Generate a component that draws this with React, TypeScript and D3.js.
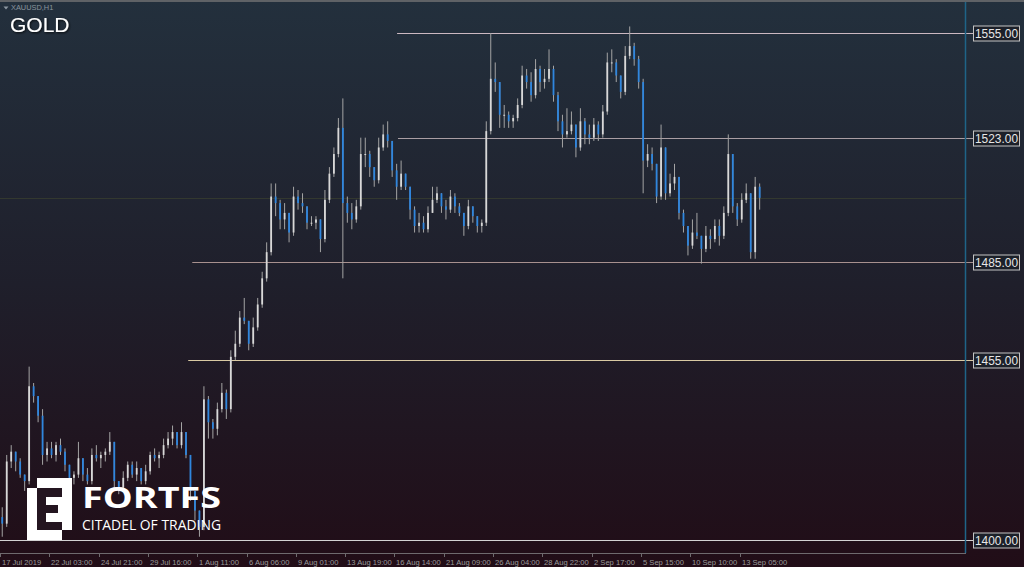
import React from 'react';
import * as d3 from 'd3';

const W = 1024;
const H = 567;

// 6-hour aggregated candles (XAUUSD)
const highs = [1410,1426,1429,1427,1425,1420,1453,1448,1444,1440,1430,1430,1430,1431,1428,1423,1421,1430,1425,1422,1428,1429,1427,1428,1433,1430,1418,1421,1424,1424,1424,1422,1423,1427,1428,1427,1431,1433,1435,1433,1436,1433,1426,1415,1409,1447,1444,1437,1442,1448,1446,1458,1464,1470,1474,1467,1468,1474,1482,1491,1509,1509,1504,1503,1500,1508,1507,1506,1502,1499,1499,1498,1507,1514,1520,1529,1535,1505,1503,1504,1523,1523,1519,1514,1523,1527,1528,1522,1515,1516,1512,1508,1502,1500,1499,1502,1508,1508,1506,1504,1507,1506,1503,1500,1504,1502,1499,1498,1528,1555,1546,1540,1533,1531,1530,1535,1545,1544,1543,1547,1545,1544,1550,1545,1537,1530,1532,1531,1527,1532,1529,1527,1529,1528,1533,1549,1550,1547,1542,1551,1557,1552,1548,1541,1521,1520,1515,1527,1520,1512,1515,1511,1501,1496,1498,1500,1493,1496,1495,1498,1498,1502,1524,1518,1503,1506,1509,1506,1511,1509];
const lows = [1401,1404,1422,1421,1419,1415,1417,1442,1436,1423,1424,1425,1424,1426,1421,1418,1417,1419,1418,1417,1417,1424,1422,1424,1426,1415,1414,1415,1418,1419,1418,1417,1417,1420,1424,1422,1425,1428,1429,1428,1428,1425,1412,1406,1401,1403,1431,1431,1432,1439,1437,1439,1455,1459,1466,1458,1459,1464,1471,1479,1487,1499,1495,1495,1491,1493,1501,1500,1495,1496,1495,1488,1491,1503,1511,1517,1480,1497,1495,1497,1501,1514,1511,1508,1509,1519,1520,1511,1504,1507,1507,1498,1494,1494,1494,1494,1500,1503,1500,1498,1500,1500,1499,1493,1495,1497,1494,1494,1496,1524,1537,1526,1526,1526,1526,1528,1532,1538,1534,1535,1537,1538,1540,1534,1525,1520,1523,1524,1517,1519,1521,1521,1522,1522,1523,1530,1543,1540,1535,1536,1547,1545,1538,1506,1514,1513,1503,1504,1504,1505,1507,1498,1494,1487,1489,1492,1484.5,1488,1489,1491,1490,1492,1499,1500,1496,1497,1503,1486,1486,1501];
const closes = [1405,1424,1427,1424,1420,1418,1447,1444,1438,1426,1428,1426,1429,1427,1423,1419,1420,1425,1420,1418,1426,1425,1426,1427,1430,1418,1416,1419,1423,1420,1422,1418,1421,1426,1425,1426,1429,1431,1433,1429,1433,1426,1415,1409,1404,1443,1436,1434,1440,1445,1440,1456,1460,1468,1467,1460,1465,1472,1480,1488,1505,1503,1498,1500,1494,1505,1503,1502,1497,1497,1498,1492,1504,1512,1518,1526,1503,1500,1498,1502,1518,1518,1514,1510,1520,1524,1522,1513,1508,1512,1508,1501,1496,1497,1495,1500,1504,1506,1502,1501,1505,1502,1500,1496,1502,1499,1496,1497,1525,1541,1540,1530,1530,1528,1529,1533,1542,1540,1536,1544,1540,1541,1544,1536,1528,1524,1525,1527,1520,1528,1524,1523,1527,1524,1531,1546,1546,1542,1537,1548,1551,1547,1540,1516,1518,1515,1505,1520,1506,1509,1511,1500,1496,1490,1494,1493,1489,1493,1492,1496,1493,1500,1518,1502,1498,1504,1506,1488,1508,1504.6];
const firstOpen = 1407;

const tickLabels = ['17 Jul 2019','22 Jul 03:00','24 Jul 21:00','29 Jul 16:00','1 Aug 11:00','6 Aug 06:00','9 Aug 01:00','13 Aug 19:00','16 Aug 14:00','21 Aug 09:00','26 Aug 04:00','28 Aug 22:00','2 Sep 17:00','5 Sep 15:00','10 Sep 10:00','13 Sep 05:00'];
const candlesPerLabel = 11;

const levelPrices = [1555, 1523, 1485, 1455, 1400];
const levelStartIdx = [88.6, 88.8, 42.9, 42.0, 0];
const levelColors = ['#cbb8c1', '#aa9ea3', '#a8918f', '#d9caa3', '#d2d2d2'];
const bidPrice = 1504.6;

export default function App() {
  const plotRight = 966;
  const axisY = 553;
  const x = d3.scaleLinear().domain([0, candlesPerLabel]).range([0, 49.3]);
  const y = d3.scaleLinear().domain([1400, 1555]).range([540, 33]);
  const opens = closes.map((c, i) => (i === 0 ? firstOpen : closes[i - 1]));
  const bodyW = 1.8;

  return (
    <div style={{ position: 'fixed', left: 0, top: 0, width: W, height: H }}>
      <svg width={W} height={H} style={{ display: 'block' }}>
        <defs>
          <linearGradient id="bg" x1="0" y1="0" x2="0" y2="1">
            <stop offset="0" stopColor="#23303d" />
            <stop offset="0.5" stopColor="#1f1f2b" />
            <stop offset="1" stopColor="#210d17" />
          </linearGradient>
          <filter id="sh" x="-20%" y="-20%" width="140%" height="140%">
            <feDropShadow dx="1" dy="1" stdDeviation="1" floodColor="#000" floodOpacity="0.8" />
          </filter>
        </defs>
        <rect x={0} y={0} width={W} height={H} fill="url(#bg)" />
        <rect x={0} y={0} width={W} height={2} fill="#5f6266" />

        {/* bid line */}
        <line x1={0} x2={plotRight} y1={Math.round(y(bidPrice)) + 0.5} y2={Math.round(y(bidPrice)) + 0.5} stroke="#33382f" strokeWidth={1} />

        {/* level lines */}
        {levelPrices.map((p, i) => {
          const yy = Math.round(y(p)) + 0.5;
          return (
            <g key={p}>
              <line x1={x(levelStartIdx[i])} x2={974} y1={yy} y2={yy} stroke={levelColors[i]} strokeWidth={1} />
              <rect x={973.5} y={yy - 7.5} width={46} height={15} fill="#1c2029" stroke="#c4c4c4" strokeWidth={1} />
              <text x={996.5} y={yy + 4.5} textAnchor="middle" fontFamily="Liberation Sans, Arial, sans-serif" fontSize={12.5} fill="#e6e6e6" textLength={43} lengthAdjust="spacingAndGlyphs">
                {p.toFixed(2)}
              </text>
            </g>
          );
        })}

        {/* candles */}
        {closes.map((c, i) => {
          const cx = x(i + 0.5);
          const o = opens[i];
          const up = c >= o;
          const top = y(Math.max(o, c));
          const bot = y(Math.min(o, c));
          return (
            <g key={i}>
              <line x1={cx} x2={cx} y1={y(highs[i])} y2={y(lows[i])} stroke="#a4a4a4" strokeWidth={1} />
              <rect x={cx - bodyW / 2} y={top} width={bodyW} height={Math.max(1, bot - top)} fill={up ? '#d8d8d8' : '#2f86de'} />
            </g>
          );
        })}

        {/* right separator */}
        <line x1={plotRight - 0.5} x2={plotRight - 0.5} y1={2} y2={axisY} stroke="#1f6488" strokeWidth={1.5} />
        {/* bottom axis */}
        <line x1={0} x2={plotRight} y1={axisY + 0.5} y2={axisY + 0.5} stroke="#6e6a6e" strokeWidth={1} />
        {tickLabels.map((t, k) => {
          const tx = Math.round(x(k * candlesPerLabel)) + 0.5;
          return (
            <g key={t}>
              <line x1={tx} x2={tx} y1={axisY} y2={axisY + 4} stroke="#6e6a6e" strokeWidth={1} />
              <text x={tx + 1.5} y={565} fontFamily="Liberation Sans, Arial, sans-serif" fontSize={7.6} fill="#9a9a9a">
                {t}
              </text>
            </g>
          );
        })}

        {/* header */}
        <path d="M3.5,6.5 L8.5,6.5 L6,9.5 Z" fill="#8c96a0" />
        <text x={11} y={10} fontFamily="Liberation Sans, Arial, sans-serif" fontSize={7.4} fill="#8a949e">XAUUSD,H1</text>
        <text x={10} y={32} fontFamily="Liberation Sans, Arial, sans-serif" fontSize={21} fill="#ffffff" filter="url(#sh)">GOLD</text>

        {/* logo: white block with a dark "E" cut out */}
        <g>
          <path d="M37,478 H72 V530 H62 V540 H27 V488 H37 Z" fill="#ffffff" />
          <path d="M37,488 H62 V497 H46 V505 H58 V513 H46 V522 H62 V530 H37 Z" fill="#241520" />
        </g>
        <text x={82} y={508} fontFamily="Open Sans, sans-serif" fontWeight={700} fontSize={29} fill="#ffffff" textLength={139} lengthAdjust="spacingAndGlyphs">FORTFS</text>
        <text x={82} y={529.5} fontFamily="Open Sans, sans-serif" fontSize={15} fill="#ffffff" textLength={139} lengthAdjust="spacingAndGlyphs">CITADEL OF TRADING</text>
      </svg>
    </div>
  );
}
